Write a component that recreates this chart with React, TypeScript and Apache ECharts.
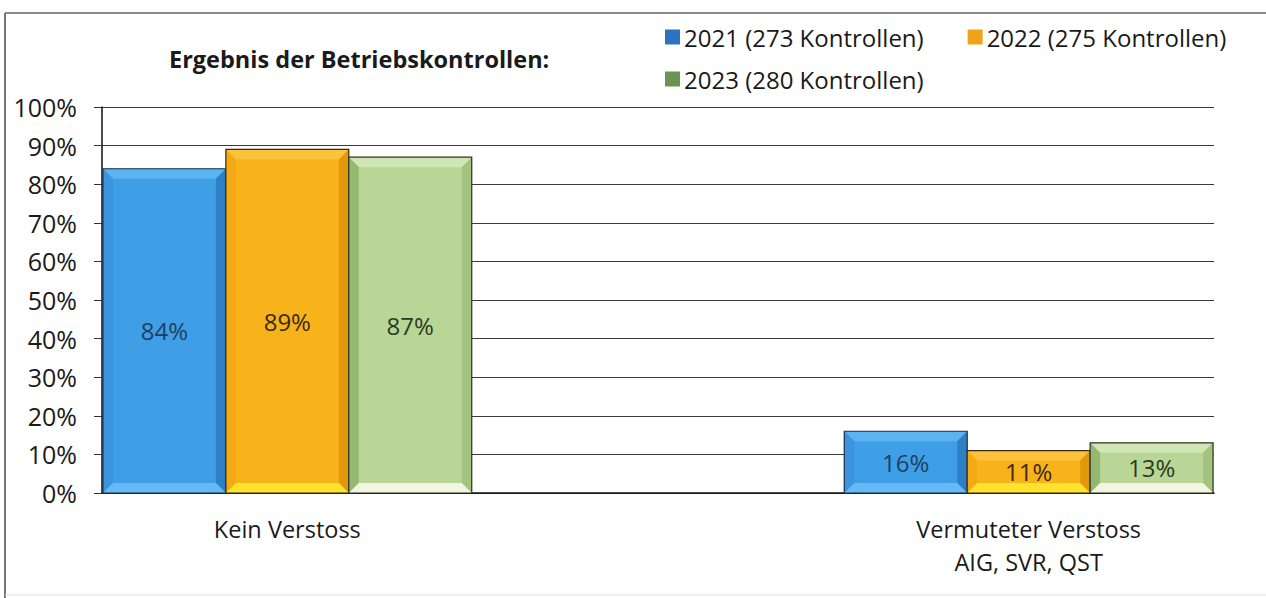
import React, { useEffect, useRef } from "react";
import * as echarts from "echarts";

const categories = ["Kein Verstoss", "", "Vermuteter Verstoss\nAIG, SVR, QST"];
const seriesNames = ["2021 (273 Kontrollen)", "2022 (275 Kontrollen)", "2023 (280 Kontrollen)"];
const values2021 = [84, null, 16];
const values2022 = [89, null, 11];
const values2023 = [87, null, 13];
const yTicks = [0, 10, 20, 30, 40, 50, 60, 70, 80, 90, 100];

const palettes = [
  { base: "#3f9fe6", top: "#5cb3f1", left: "#3b95de", right: "#2e80c6", bottom: "#66baf4", border: "#1c2f45", label: "#1d3f63", legend: "#2b72bf" },
  { base: "#f8b31b", top: "#fbc23c", left: "#f4aa14", right: "#e3980c", bottom: "#fde32c", border: "#3b2a0e", label: "#3b2a0e", legend: "#eda31a" },
  { base: "#b9d697", top: "#d0e6b4", left: "#94b86f", right: "#a3c37f", bottom: "#f0f6df", border: "#2a3320", label: "#2c3a22", legend: "#6b9452" },
];

const FONT = "'Open Sans', sans-serif";

export default function App() {
  const ref = useRef<HTMLDivElement>(null);
  useEffect(() => {
    document.body.style.margin = "0";
    if (!ref.current) return;
    const chart = echarts.init(ref.current, null, { renderer: "svg" });
    const allValues = [values2021, values2022, values2023];

    const makeRender = (si: number) => (params: any, api: any) => {
      const ci = api.value(0);
      const v = api.value(1);
      const [cx, y1] = api.coord([ci, v]);
      const [, y0] = api.coord([ci, 0]);
      const band = api.size([1, 0])[0];
      const bw = (band * 0.995) / 3;
      const x0 = cx - 1.5 * bw + si * bw;
      const x1 = x0 + bw;
      const b = Math.min(10, (y0 - y1) / 3);
      const p = palettes[si];
      return {
        type: "group",
        children: [
          { type: "rect", shape: { x: x0, y: y1, width: bw, height: y0 - y1 }, style: { fill: p.base } },
          { type: "polygon", shape: { points: [[x0, y1], [x1, y1], [x1 - b, y1 + b], [x0 + b, y1 + b]] }, style: { fill: p.top } },
          { type: "polygon", shape: { points: [[x0, y1], [x0 + b, y1 + b], [x0 + b, y0 - b], [x0, y0]] }, style: { fill: p.left } },
          { type: "polygon", shape: { points: [[x1, y1], [x1, y0], [x1 - b, y0 - b], [x1 - b, y1 + b]] }, style: { fill: p.right } },
          { type: "polygon", shape: { points: [[x0, y0], [x0 + b, y0 - b], [x1 - b, y0 - b], [x1, y0]] }, style: { fill: p.bottom } },
          { type: "rect", shape: { x: x0, y: y1, width: bw, height: y0 - y1 }, style: { fill: "none", stroke: p.border, lineWidth: 1.2 } },
          {
            type: "text",
            style: {
              text: v + "%",
              x: x0 + bw / 2,
              y: (y0 + y1) / 2,
              align: "center",
              verticalAlign: "middle",
              fontSize: 24,
              fontFamily: FONT,
              fill: p.label,
            },
          },
        ],
      };
    };

    const series = allValues.map((vals, si) => ({
      type: "custom",
      name: seriesNames[si],
      renderItem: makeRender(si),
      encode: { x: 0, y: 1 },
      itemStyle: { color: palettes[si].legend },
      data: vals.map((v, i) => (v == null ? null : [i, v])).filter((d) => d != null),
      z: 3,
    }));

    const legendText = { fontFamily: FONT, fontSize: 24, color: "#1a1a1a", padding: [0, 0, 0, -1] };

    chart.setOption({
      animation: false,
      title: {
        text: "Ergebnis der Betriebskontrollen:",
        left: 164,
        top: 42,
        textStyle: { fontFamily: FONT, fontWeight: "bold", fontSize: 23.5, color: "#1a1a1a" },
      },
      legend: [
        {
          data: [
            { name: seriesNames[0], itemStyle: { color: palettes[0].legend } },
            { name: seriesNames[1], itemStyle: { color: palettes[1].legend } },
          ],
          left: 660,
          top: 20,
          icon: "rect",
          itemWidth: 15,
          itemHeight: 15,
          itemGap: 44,
          selectedMode: false,
          textStyle: legendText,
        },
        {
          data: [{ name: seriesNames[2], itemStyle: { color: palettes[2].legend } }],
          left: 660,
          top: 62,
          icon: "rect",
          itemWidth: 15,
          itemHeight: 15,
          selectedMode: false,
          textStyle: legendText,
        },
      ],
      grid: { left: 102, right: 52, top: 107, bottom: 105 },
      xAxis: {
        type: "category",
        data: categories,
        axisLine: { lineStyle: { color: "#111", width: 1.5 } },
        axisTick: { show: false },
        axisLabel: { fontFamily: FONT, fontSize: 23.5, color: "#1a1a1a", margin: 19, lineHeight: 33 },
      },
      yAxis: {
        type: "value",
        min: yTicks[0],
        max: yTicks[yTicks.length - 1],
        interval: 10,
        axisLine: { show: true, lineStyle: { color: "#111", width: 1.5 } },
        axisTick: { show: true, length: 8, lineStyle: { color: "#333" } },
        axisLabel: { formatter: "{value}%", fontFamily: FONT, fontSize: 25, color: "#1a1a1a", margin: 25 },
        splitLine: { show: true, lineStyle: { color: "#3a3a3a", width: 1 } },
      },
      graphic: [
        { type: "line", shape: { x1: 5, y1: 13, x2: 1266, y2: 13 }, style: { stroke: "#8a8a8a", lineWidth: 2 } },
        { type: "line", shape: { x1: 5, y1: 13, x2: 5, y2: 598 }, style: { stroke: "#777", lineWidth: 2 } },
        { type: "line", shape: { x1: 5, y1: 595, x2: 1266, y2: 595 }, style: { stroke: "#e2e2e2", lineWidth: 1 } },
      ],
      series,
    });
    return () => chart.dispose();
  }, []);
  return <div ref={ref} style={{ width: 1266, height: 598 }} />;
}
